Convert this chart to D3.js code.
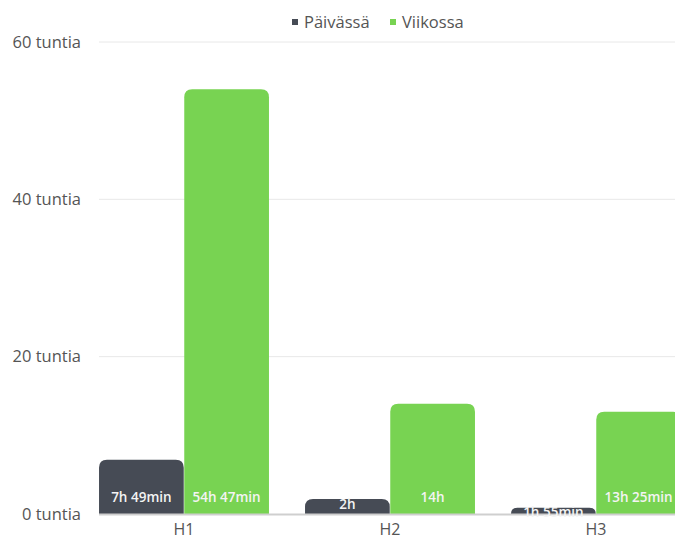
<!DOCTYPE html>
<html><head><meta charset="utf-8">
<script src="https://cdn.jsdelivr.net/npm/d3@7"></script>
<style>
html,body{margin:0;padding:0;background:#fff;overflow:hidden}
svg{display:block;font-family:"Open Sans",sans-serif}
</style></head><body>
<script>
const categories = ["H1","H2","H3"];
const seriesNames = ["Päivässä","Viikossa"];
const dayValues = [6.9, 1.9, 0.8];
const weekValues = [54.0, 14.0, 13.0];
const dayLabels = ["7h 49min","2h","1h 55min"];
const weekLabels = ["54h 47min","14h","13h 25min"];
const yTicks = [0,20,40,60];
const yTickLabels = ["0 tuntia","20 tuntia","40 tuntia","60 tuntia"];
const colors = ["#464b55","#78d352"];

const W=675,H=540;
const svg=d3.select("body").append("svg").attr("width",W).attr("height",H);

const y=d3.scaleLinear().domain([0,60]).range([514,42]);
const x0=d3.scaleBand().domain(categories).range([81,699]).paddingInner(0.175).paddingOuter(0.0875);
const x1=d3.scaleBand().domain(seriesNames).range([0,x0.bandwidth()]).paddingInner(0.006);

// grid
svg.append("g").selectAll("line").data(yTicks.filter(d=>d>0)).join("line")
  .attr("x1",99).attr("x2",W).attr("y1",d=>y(d)).attr("y2",d=>y(d))
  .attr("stroke","#e8e8e8").attr("stroke-width",1);

// y labels
svg.append("g").selectAll("text").data(yTicks).join("text")
  .attr("x",81).attr("y",d=>y(d)).attr("dy","0.35em").attr("text-anchor","end")
  .attr("font-size",16.5).attr("fill","#555").text((d,i)=>yTickLabels[i]);

const rows=[];
categories.forEach((c,i)=>{
  rows.push({cat:c,s:0,v:dayValues[i],lab:dayLabels[i]});
  rows.push({cat:c,s:1,v:weekValues[i],lab:weekLabels[i]});
});

function topRounded(x,yt,w,h,r){
  r=Math.min(r,h,w/2);
  return `M${x},${yt+h}V${yt+r}Q${x},${yt} ${x+r},${yt}H${x+w-r}Q${x+w},${yt} ${x+w},${yt+r}V${yt+h}Z`;
}
const bars=svg.append("g");
bars.selectAll("path").data(rows).join("path")
  .attr("d",d=>{
    const bx=x0(d.cat)+x1(seriesNames[d.s]);
    const yt=y(d.v);
    return topRounded(bx,yt,x1.bandwidth(),y(0)-yt,8);
  })
  .attr("fill",d=>colors[d.s]);

// axis line
svg.append("line").attr("x1",99).attr("x2",W).attr("y1",y(0)+0.5).attr("y2",y(0)+0.5)
  .attr("stroke","#cfcfcf").attr("stroke-width",2);

// value labels
svg.append("g").selectAll("text").data(rows).join("text")
  .attr("x",d=>x0(d.cat)+x1(seriesNames[d.s])+x1.bandwidth()/2)
  .attr("y",d=>Math.max(497,y(d.v)+5)).attr("dy","0.35em").attr("text-anchor","middle")
  .attr("font-size",13.5).attr("font-weight",600).attr("fill","#f4f4f4").text(d=>d.lab);

// x labels
svg.append("g").selectAll("text").data(categories).join("text")
  .attr("x",d=>x0(d)+x0.bandwidth()/2).attr("y",529).attr("dy","0.35em").attr("text-anchor","middle")
  .attr("font-size",16).attr("fill","#555").text(d=>d);

// legend
const lg=svg.append("g");
const legX=[295,393];
seriesNames.forEach((n,i)=>{
  lg.append("rect").attr("x",legX[i]-3).attr("y",19).attr("width",6).attr("height",6).attr("fill",colors[i]);
  lg.append("text").attr("x",legX[i]+9).attr("y",22).attr("dy","0.35em")
    .attr("font-size",16.5).attr("fill","#555").text(n);
});
</script>
</body></html>
